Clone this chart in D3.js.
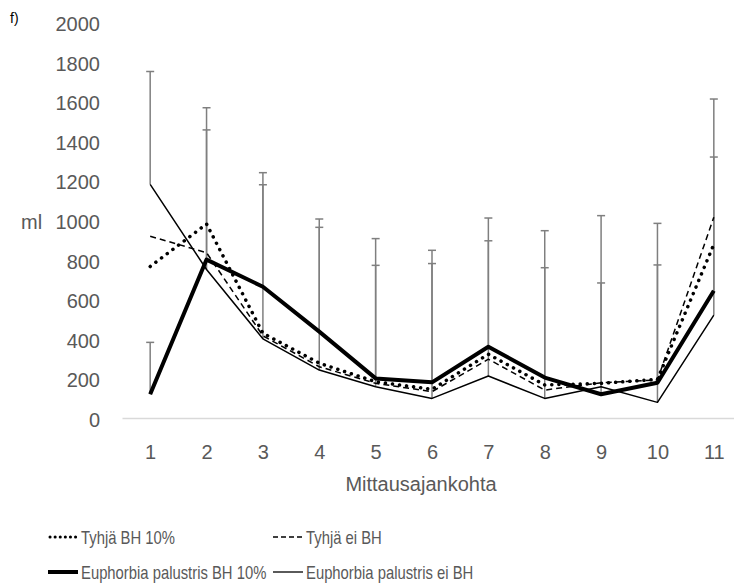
<!DOCTYPE html>
<html><head><meta charset="utf-8">
<script src="https://cdn.jsdelivr.net/npm/d3@7"></script>
<style>body{margin:0;background:#fff} svg{display:block}</style>
</head><body>
<script>
const categories = ["1","2","3","4","5","6","7","8","9","10","11"];
const tyhjaBH = [765, 980, 428, 277, 183, 145, 322, 167, 175, 195, 877];
const tyhjaEi = [918, 835, 415, 259, 175, 133, 297, 141, 178, 192, 1014];
const euphBH = [120, 800, 663, 436, 200, 180, 360, 204, 120, 178, 643];
const euphEi = [1180, 750, 400, 242, 158, 99, 212, 99, 158, 79, 520];
const errEuphBH = [262, 655, 515, 527, 571, 600, 535, 555, 562, 595, 675];
const errEuphEi = [570, 817, 839, 763, 748, 748, 798, 847, 864, 904, 1091];
const yTicks = [0, 200, 400, 600, 800, 1000, 1200, 1400, 1600, 1800, 2000];
const seriesNames = ["Tyhjä BH 10%", "Tyhjä ei BH", "Euphorbia palustris BH 10%", "Euphorbia palustris ei BH"];

const W = 734, H = 588;
const FONT = "'Liberation Sans', Arial, sans-serif";
const GREY = "#595959";

const svg = d3.select("body").append("svg").attr("width", W).attr("height", H)
  .style("font-family", FONT);

const x = d3.scalePoint().domain(categories).range([122, 742]).padding(0.5);
const y = d3.scaleLinear().domain([0, 2000]).range([418, 22]);

// y axis
const ya = svg.append("g").attr("transform", "translate(122,0)")
  .call(d3.axisLeft(y).tickValues(yTicks).tickFormat(d3.format("d")).tickSize(0).tickPadding(22));
ya.select(".domain").remove();
ya.selectAll("text").attr("fill", GREY).attr("font-size", 20).attr("font-family", FONT).attr("dy", "0.42em");

// x axis
const xa = svg.append("g").attr("transform", "translate(0,418)")
  .call(d3.axisBottom(x).tickSize(0).tickSizeOuter(0));
xa.select(".domain").attr("stroke", "#d9d9d9").attr("stroke-width", 1.5);
xa.selectAll("text").attr("fill", GREY).attr("font-size", 20).attr("font-family", FONT)
  .attr("y", 34).attr("dy", "0.35em");

// labels
svg.append("text").attr("x", 10).attr("y", 18).attr("dy", "0.35em").attr("font-size", 14).attr("fill", "#000").text("f)");
svg.append("text").attr("x", 21).attr("y", 222).attr("dy", "0.35em").attr("font-size", 20).attr("fill", GREY).text("ml");
svg.append("text").attr("x", 421).attr("y", 484).attr("dy", "0.35em").attr("text-anchor", "middle")
  .attr("font-size", 20).attr("fill", GREY).text("Mittausajankohta");

// error bars
const errGroups = [[euphEi, errEuphEi], [euphBH, errEuphBH]];
const eb = svg.append("g").attr("stroke", "#7f7f7f").attr("stroke-width", 1.5).attr("fill", "none");
errGroups.forEach(([vals, errs]) => {
  categories.forEach((c, i) => {
    const cx = x(c), y0 = y(vals[i]), y1 = y(vals[i] + errs[i]);
    eb.append("line").attr("x1", cx).attr("x2", cx).attr("y1", y0).attr("y2", y1);
    eb.append("line").attr("x1", cx - 4).attr("x2", cx + 4).attr("y1", y1).attr("y2", y1);
  });
});

// series
const styles = [
  { data: tyhjaBH, width: 3.5, dash: "0.1 7", cap: "round" },
  { data: tyhjaEi, width: 1.5, dash: "6 4", cap: "butt" },
  { data: euphBH, width: 4, dash: null, cap: "butt" },
  { data: euphEi, width: 1.5, dash: null, cap: "butt" }
];
const line = d3.line().x((d, i) => x(categories[i])).y(d => y(d));
styles.forEach(s => {
  svg.append("path").datum(s.data).attr("d", line).attr("fill", "none")
    .attr("stroke", "#000").attr("stroke-width", s.width)
    .attr("stroke-dasharray", s.dash).attr("stroke-linecap", s.cap).attr("stroke-linejoin", "round");
});

// legend (Calibri-like condensed text)
const legPos = [[48, 537], [273, 537], [48, 572], [273, 572]];
const legStyles = [
  { width: 3, dash: "0.1 5", cap: "round" },
  { width: 1.3, dash: "5 3", cap: "butt" },
  { width: 4, dash: null, cap: "butt" },
  { width: 1.3, dash: null, cap: "butt" }
];
legStyles.forEach((s, i) => {
  const [lx, ly] = legPos[i];
  svg.append("line").attr("x1", lx + (s.cap === "round" ? 2 : 0)).attr("x2", lx + 30).attr("y1", ly).attr("y2", ly)
    .attr("stroke", "#000").attr("stroke-width", s.width).attr("stroke-dasharray", s.dash).attr("stroke-linecap", s.cap);
  const t = svg.append("text").attr("x", lx + 33).attr("y", ly).attr("dy", "0.35em").attr("font-size", 19)
    .attr("fill", GREY).text(seriesNames[i]);
  const len = t.node().getComputedTextLength();
  t.attr("textLength", len * 0.78).attr("lengthAdjust", "spacingAndGlyphs");
});
</script>
</body></html>
